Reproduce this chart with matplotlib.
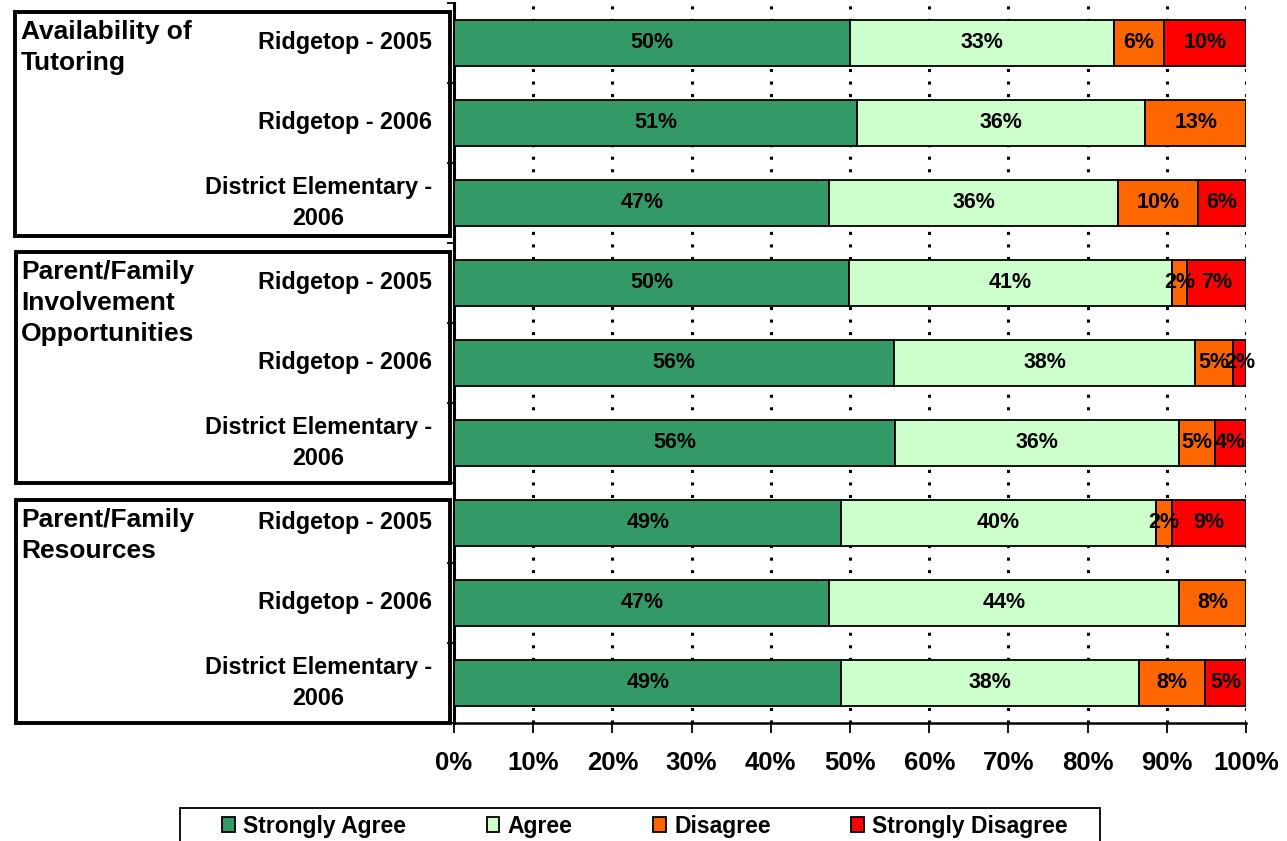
import matplotlib
matplotlib.use("Agg")
import matplotlib.pyplot as plt
from matplotlib.patches import Rectangle, Patch
import numpy as np

plt.rcParams['font.family'] = ['Liberation Sans', 'DejaVu Sans']
plt.rcParams['font.weight'] = 'bold'

categories = [
    "Ridgetop - 2005", "Ridgetop - 2006", "District Elementary -\n2006",
    "Ridgetop - 2005", "Ridgetop - 2006", "District Elementary -\n2006",
    "Ridgetop - 2005", "Ridgetop - 2006", "District Elementary -\n2006",
]
groups = ["Availability of\nTutoring",
          "Parent/Family\nInvolvement\nOpportunities",
          "Parent/Family\nResources"]

strongly_agree = [50.0, 50.9, 47.4, 49.9, 55.6, 55.7, 48.9, 47.4, 48.9]
agree = [33.3, 36.4, 36.4, 40.7, 38.0, 35.8, 39.7, 44.2, 37.6]
disagree = [6.3, 12.7, 10.1, 2.0, 4.8, 4.6, 2.0, 8.4, 8.3]
strongly_disagree = [10.4, 0.0, 6.1, 7.4, 1.6, 3.9, 9.4, 0.0, 5.2]

series_names = ["Strongly Agree", "Agree", "Disagree", "Strongly Disagree"]
series_vals = [strongly_agree, agree, disagree, strongly_disagree]
colors = ["#339966", "#CCFFCC", "#FF6600", "#FF0000"]
xticks = [0, 10, 20, 30, 40, 50, 60, 70, 80, 90, 100]

W, H = 1287, 841
fig = plt.figure(figsize=(W / 100, H / 100), dpi=100)
ax = fig.add_axes([454 / W, 1 - 723 / H, (1246 - 454) / W, (723 - 3) / H])

y = np.arange(len(categories))
left = np.zeros(len(categories))
for name, vals, c in zip(series_names, series_vals, colors):
    vals = np.array(vals)
    ax.barh(y, vals, left=left, height=0.58, color=c, edgecolor='black',
            linewidth=1.3, zorder=3, label=name)
    for yi, v, l in zip(y, vals, left):
        if v > 0:
            ax.text(l + v / 2, yi, f"{round(v):.0f}%", ha='center', va='center',
                    fontsize=15.5, fontweight='bold', zorder=4)
    left = left + vals

ax.set_xlim(0, 100)
ax.set_ylim(len(categories) - 0.5, -0.5)
ax.set_xticks(xticks)
ax.set_xticklabels([f"{t}%" for t in xticks], fontsize=18.5, fontweight='bold')
ax.tick_params(axis='x', direction='out', length=7, width=1.3, pad=13)
ax.set_yticks(y)
ax.set_yticklabels(categories, fontsize=16.8, fontweight='bold')
for lab in ax.get_yticklabels():
    lab.set_multialignment('center')
    lab.set_linespacing(1.45)
    lab.set_verticalalignment('center')
ax.tick_params(axis='y', which='major', length=0, pad=16)
ax.set_yticks(np.arange(-0.5, len(categories), 1.0), minor=True)
ax.tick_params(axis='y', which='minor', length=5, width=1.3, direction='out')

ax.xaxis.grid(True, color='black', linewidth=2.2, linestyle=(0, (1.0, 3.1)), zorder=0)
ax.set_axisbelow(True)
for s in ['top', 'right']:
    ax.spines[s].set_visible(False)
ax.spines['left'].set_linewidth(2.2)
ax.spines['bottom'].set_linewidth(1.8)

# group boxes and labels
boxes = [(15, 12, 450, 236), (16, 252, 450, 483), (16, 500, 450, 723)]
for (x0, y0, x1, y1), g in zip(boxes, groups):
    fig.patches.append(Rectangle((x0 / W, 1 - y1 / H), (x1 - x0) / W, (y1 - y0) / H,
                                 transform=fig.transFigure, fill=False,
                                 edgecolor='black', linewidth=2.8))
    fig.text(21 / W, 1 - (y0 + 8) / H, g, ha='left', va='top', fontsize=19,
             fontweight='bold', linespacing=1.38)

# legend
fig.patches.append(Rectangle((180 / W, 1 - 860 / H), (1100 - 180) / W, (860 - 808) / H,
                             transform=fig.transFigure, fill=False,
                             edgecolor='black', linewidth=1.3))
handles = [Patch(facecolor=c, edgecolor='black', linewidth=1.3) for c in colors]
fig.legend(handles, series_names, loc='center left',
           bbox_to_anchor=(222 / W, 1 - 826 / H), ncol=4, frameon=False,
           borderpad=0, borderaxespad=0, handlelength=0.55,
           handleheight=0.6, handletextpad=0.38, columnspacing=3.5,
           prop={'weight': 'bold', 'size': 16.5})

fig.savefig("out.png", dpi=100)
